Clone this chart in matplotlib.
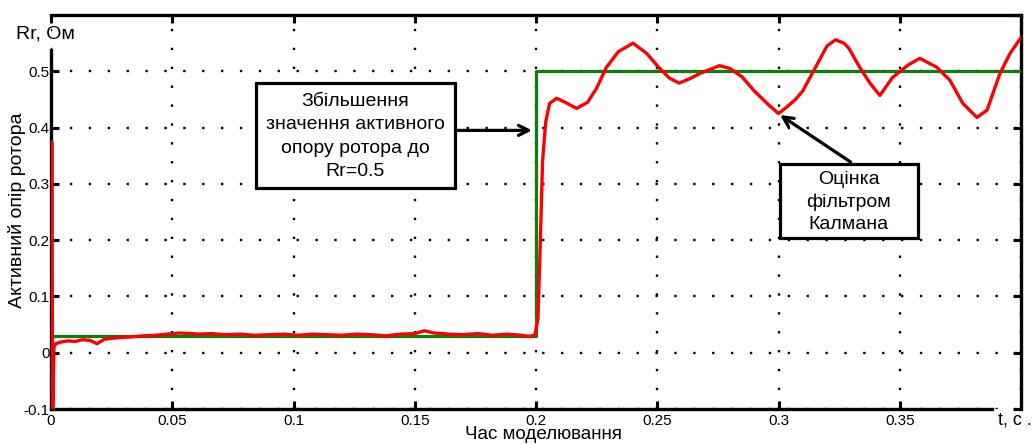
import matplotlib
matplotlib.use('Agg')
import matplotlib.pyplot as plt
import matplotlib.patches as patches

plt.rcParams['font.family'] = ['Liberation Sans', 'DejaVu Sans']

# reference (green) - step of rotor resistance
ref_t = [0.0, 0.2, 0.2, 0.4]
ref_r = [0.03, 0.03, 0.5, 0.5]

# Kalman estimate (red)
est_t = [0.0, 0.0003, 0.0007, 0.0012, 0.002, 0.004, 0.007, 0.010, 0.0128, 0.016,
         0.019, 0.022, 0.024, 0.028, 0.033, 0.038, 0.043, 0.048, 0.053, 0.058,
         0.061, 0.066, 0.072, 0.078, 0.084, 0.090, 0.096, 0.102, 0.108, 0.114,
         0.120, 0.126, 0.132, 0.138, 0.144, 0.150, 0.154, 0.158, 0.164, 0.170,
         0.176, 0.182, 0.188, 0.194, 0.197, 0.1995, 0.2008, 0.2016, 0.2027, 0.204,
         0.2056, 0.2085, 0.212, 0.2167, 0.2213, 0.225, 0.229, 0.234, 0.240, 0.2456,
         0.251, 0.255, 0.259, 0.2635, 0.2675, 0.2715, 0.2757, 0.280, 0.285, 0.290,
         0.296, 0.300, 0.303, 0.307, 0.310, 0.315, 0.320, 0.3235, 0.327, 0.329,
         0.3335, 0.3377, 0.3418, 0.347, 0.3534, 0.3583, 0.3653, 0.3707, 0.376, 0.3818,
         0.386, 0.3913, 0.3955, 0.4]
est_r = [0.0, 0.375, -0.11, 0.01, 0.016, 0.019, 0.021, 0.020, 0.023, 0.022,
         0.016, 0.024, 0.025, 0.027, 0.028, 0.030, 0.031, 0.033, 0.035, 0.034,
         0.033, 0.034, 0.032, 0.033, 0.031, 0.032, 0.033, 0.031, 0.033, 0.032,
         0.031, 0.033, 0.032, 0.030, 0.033, 0.034, 0.039, 0.035, 0.033, 0.032,
         0.034, 0.031, 0.033, 0.031, 0.029, 0.031, 0.06, 0.17, 0.34, 0.41,
         0.443, 0.452, 0.445, 0.434, 0.445, 0.47, 0.507, 0.535, 0.55, 0.532,
         0.505, 0.488, 0.479, 0.487, 0.496, 0.503, 0.51, 0.505, 0.49, 0.465,
         0.44, 0.425, 0.435, 0.45, 0.465, 0.505, 0.545, 0.556, 0.55, 0.541,
         0.507, 0.479, 0.457, 0.489, 0.511, 0.523, 0.507, 0.484, 0.443, 0.418,
         0.431, 0.496, 0.532, 0.56]

x_ticks = [0, 0.05, 0.1, 0.15, 0.2, 0.25, 0.3, 0.35, 0.4]
x_labels = ['0', '0.05', '0.1', '0.15', '0.2', '0.25', '0.3', '0.35', '']
y_ticks = [-0.1, 0, 0.1, 0.2, 0.3, 0.4, 0.5, 0.6]
y_labels = ['-0.1', '0', '0.1', '0.2', '0.3', '0.4', '0.5', '']

fig = plt.figure(figsize=(10.33, 4.44), dpi=100)
ax = fig.add_axes([51/1033, 1 - 409/444, (1021 - 51)/1033, (409 - 15)/444])

ax.plot(ref_t, ref_r, color='#0a800a', lw=2.3, zorder=3)
ax.plot(est_t, est_r, color='#ff0000', lw=2.4, zorder=4)

ax.set_xlim(0, 0.4)
ax.set_ylim(-0.1, 0.6)
ax.set_xticks(x_ticks)
ax.set_xticklabels(x_labels)
ax.set_yticks(y_ticks)
ax.set_yticklabels(y_labels)
ax.tick_params(direction='in', length=6, width=2.2, labelsize=11,
               top=True, right=True)
ax.tick_params(axis='x', pad=3.5)
ax.tick_params(axis='y', pad=1)
ax.xaxis.get_major_ticks()[-1].tick1line.set_visible(False)
ax.yaxis.get_major_ticks()[-1].tick1line.set_visible(False)
ax.grid(True, color='black', linestyle=(0, (1, 7.0)), lw=1.7)

for s in ax.spines.values():
    s.set_linewidth(2.4)
ax.spines['left'].set_bounds(-0.1, 0.537)
ax.spines['bottom'].set_bounds(0, 0.388)

# annotation 1
ax.add_patch(patches.Rectangle((0.0846, 0.292), 0.1664 - 0.0846, 0.479 - 0.292,
                               fill=True, facecolor='white', edgecolor='black',
                               lw=2.3, zorder=5))
ax.text(0.1255, 0.384, 'Збільшення\nзначення активного\nопору ротора до\nRr=0.5',
        ha='center', va='center', fontsize=14, linespacing=1.5, zorder=6)
ax.annotate('', xy=(0.1995, 0.395), xytext=(0.1664, 0.395),
            arrowprops=dict(arrowstyle='->', lw=2.3, color='black',
                            mutation_scale=18), zorder=6)

# annotation 2
ax.add_patch(patches.Rectangle((0.3005, 0.2046), 0.3575 - 0.3005, 0.336 - 0.2046,
                               fill=True, facecolor='white', edgecolor='black',
                               lw=2.3, zorder=5))
ax.text(0.329, 0.268, 'Оцінка\nфільтром\nКалмана',
        ha='center', va='center', fontsize=14, linespacing=1.4, zorder=6)
ax.annotate('', xy=(0.2997, 0.425), xytext=(0.3307, 0.336),
            arrowprops=dict(arrowstyle='->', lw=2.3, color='black',
                            mutation_scale=18), zorder=6)

fig.text(45/1033, 1 - 34/444, 'Rr, Ом', ha='center', va='center', fontsize=14)
fig.text(1015/1033, 1 - 420/444, 't, c .', ha='center', va='center', fontsize=13)
fig.text(17/1033, 1 - 210/444, 'Активний опір ротора', rotation=90,
         ha='center', va='center', fontsize=14)
fig.text(543/1033, 1 - 443/444, 'Час моделювання', ha='center', va='bottom',
         fontsize=13.5)

fig.savefig('out.png', dpi=100)
